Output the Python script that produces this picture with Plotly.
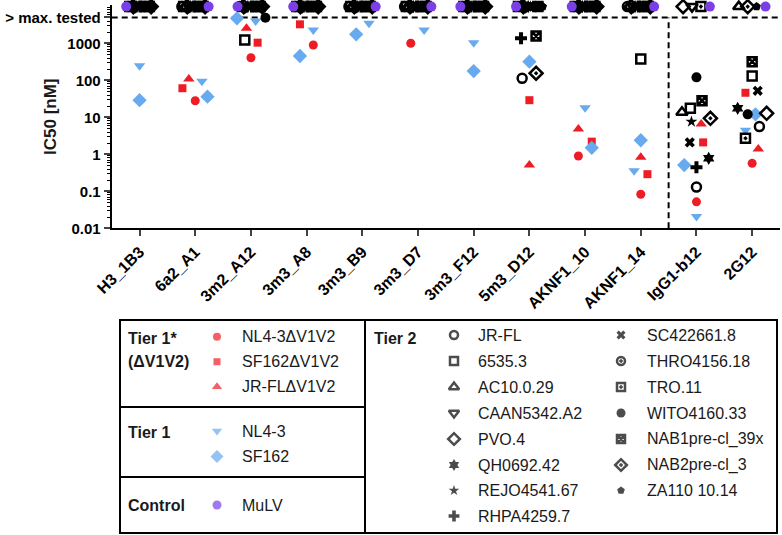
import numpy as np
import plotly.graph_objects as go

categories = ['H3_1B3', '6a2_A1', '3m2_A12', '3m3_A8', '3m3_B9', '3m3_D7',
              '3m3_F12', '5m3_D12', 'AKNF1_10', 'AKNF1_14', 'IgG1-b12', '2G12']

NN = 'nn'  # not neutralised at the highest concentration tested (> max. tested)

# Tier 1* (ΔV1V2), IC50 in nM
nl43_dv1v2 = [None, 28, 408, 900, None, 1000, None, None, 0.9, 0.083, 0.052, 0.57]
sf162_dv1v2 = [None, 61, 1040, 3260, None, None, None, 29, 2.2, 0.29, 2.1, 46]
jrfl_dv1v2 = [None, 108, 2540, None, None, None, None, 0.51, 4.8, 0.83, 6.6, 1.4]
# Tier 1
nl43 = [248, 94, 4000, 2290, 3470, 2290, 1040, None, 18, 0.36, 0.021, 4.5]
sf162 = [29, 36, 4740, 454, 1750, None, 178, 319, 1.5, 2.4, 0.51, 12]
# Control
mulv = [NN, NN, NN, NN, NN, NN, NN, NN, NN, NN, NN, NN]
# Tier 2
jrfl = [NN, NN, NN, NN, NN, NN, NN, 113, NN, NN, 0.13, 5.6]
v6535 = [NN, NN, 1230, NN, NN, NN, NN, NN, NN, 377, 17.5, 131]
ac10 = [NN, NN, NN, NN, NN, NN, NN, NN, NN, NN, 13.6, NN]
caan = [NN, NN, NN, NN, NN, NN, NN, NN, NN, NN, NN, None]
pvo4 = [NN, NN, NN, NN, NN, NN, NN, NN, NN, NN, NN, 12.8]
qh0692 = [NN, NN, NN, NN, NN, NN, NN, NN, NN, NN, 0.78, 17.5]
rejo = [NN, NN, NN, NN, NN, NN, NN, NN, NN, NN, 7.6, None]
rhpa = [NN, NN, NN, NN, NN, NN, NN, 1360, NN, NN, 0.45, None]
sc4226 = [NN, NN, NN, NN, NN, NN, NN, NN, NN, NN, 2.1, 52]
thro = [NN, NN, NN, NN, NN, NN, NN, NN, NN, NN, None, None]
tro11 = [NN, NN, NN, NN, NN, NN, NN, NN, NN, NN, NN, 2.7]
wito = [NN, NN, 4900, NN, NN, NN, NN, NN, NN, NN, 120, 12]
nab1 = [NN, NN, NN, NN, NN, NN, NN, 1575, NN, NN, 28, 319]
nab2 = [NN, NN, NN, NN, NN, NN, NN, 155, NN, NN, 9.4, NN]
za110 = [NN, NN, NN, NN, NN, NN, NN, NN, NN, NN, None, NN]

MAX_TESTED = 5000   # dashed line
TOP = 9800          # where "> max. tested" points are plotted

# horizontal scatter of points inside a column (category units)
jitter = {
    'nl43_dv1v2': {3: 0.12, 5: -0.13, 8: -0.12},
    'sf162_dv1v2': {1: -0.23, 2: 0.12, 3: -0.12, 8: 0.12, 9: 0.12, 10: 0.12, 11: -0.12},
    'jrfl_dv1v2': {1: -0.115, 2: -0.08, 8: -0.12, 10: 0.085, 11: 0.11},
    'nl43': {1: 0.12, 2: 0.085, 3: 0.12, 4: 0.12, 5: 0.11, 9: -0.12, 11: -0.12},
    'sf162': {1: 0.22, 2: -0.25, 3: -0.12, 4: -0.11, 8: 0.12, 10: -0.22, 11: 0.06},
    'jrfl': {7: -0.13, 11: 0.13},
    'v6535': {2: -0.11, 10: -0.11},
    'ac10': {10: -0.26},
    'pvo4': {11: 0.26},
    'qh0692': {10: 0.22, 11: -0.26},
    'rejo': {10: -0.09},
    'rhpa': {7: -0.15},
    'sc4226': {10: -0.12, 11: 0.1},
    'tro11': {11: -0.12},
    'wito': {2: 0.26, 11: -0.08},
    'nab1': {7: 0.12, 10: 0.1},
    'nab2': {7: 0.12, 10: 0.25},
}
# side of the "> max. tested" row where the MuLV control sits
mulv_side = ['L', 'R', 'L', 'L', 'R', 'R', 'L', 'L', 'L', 'R', 'R', 'R']

RED = '#ee1c24'
BLUE = '#68aaf0'
PURPLE = '#7b3fe6'
BLK = 'black'

tier1_star = [
    ('nl43_dv1v2', 'NL4-3ΔV1V2', nl43_dv1v2, dict(symbol='circle', color=RED, size=9)),
    ('sf162_dv1v2', 'SF162ΔV1V2', sf162_dv1v2, dict(symbol='square', color=RED, size=8)),
    ('jrfl_dv1v2', 'JR-FLΔV1V2', jrfl_dv1v2, dict(symbol='triangle-up', color=RED, size=10)),
]
tier1 = [
    ('nl43', 'NL4-3', nl43, dict(symbol='triangle-down', color=BLUE, size=10)),
    ('sf162', 'SF162', sf162, dict(symbol='diamond', color=BLUE, size=11)),
]
control = [('mulv', 'MuLV', mulv, dict(symbol='circle', color=PURPLE, size=10))]


def open_sym(sym, size=9):
    return dict(symbol=sym, color=BLK, size=size, line=dict(width=2.5, color=BLK))


tier2 = [
    ('jrfl', 'JR-FL', jrfl, open_sym('circle-open')),
    ('v6535', '6535.3', v6535, open_sym('square-open')),
    ('ac10', 'AC10.0.29', ac10, open_sym('triangle-up-open', 10)),
    ('pvo4', 'PVO.4', pvo4, open_sym('diamond-open', 10)),
    ('caan', 'CAAN5342.A2', caan, open_sym('triangle-down-open', 10)),
    ('qh0692', 'QH0692.42', qh0692, dict(symbol='hexagram', color=BLK, size=10)),
    ('rejo', 'REJO4541.67', rejo, dict(symbol='star', color=BLK, size=9)),
    ('rhpa', 'RHPA4259.7', rhpa, dict(symbol='cross', color=BLK, size=10)),
    ('sc4226', 'SC422661.8', sc4226, dict(symbol='x', color=BLK, size=9)),
    ('thro', 'THRO4156.18', thro, open_sym('circle-open-dot')),
    ('tro11', 'TRO.11', tro11, open_sym('square-open-dot')),
    ('wito', 'WITO4160.33', wito, dict(symbol='circle', color=BLK, size=10)),
    ('nab1', 'NAB1pre-cl_39x', nab1, open_sym('square-x-open')),
    ('nab2', 'NAB2pre-cl_3', nab2, open_sym('diamond-open-dot', 10)),
    ('za110', 'ZA110 10.14', za110, dict(symbol='pentagon', color=BLK, size=9)),
]
# order shown in the legend table (column-wise)
legend_order = ['jrfl', 'v6535', 'ac10', 'caan', 'pvo4', 'qh0692', 'rejo', 'rhpa',
                'sc4226', 'thro', 'tro11', 'wito', 'nab1', 'nab2', 'za110']

# spread the "> max. tested" row of each column
top_dx = {}
for i in range(len(categories)):
    row = [k for k, _, v, _ in tier2 if v[i] == NN]
    row = ['mulv'] + row if mulv_side[i] == 'L' else row + ['mulv']
    for k, d in zip(row, np.linspace(-0.24, 0.24, len(row))):
        top_dx[(k, i)] = d

fig = go.Figure()

# dashed limits
fig.add_trace(go.Scatter(x=[-0.5, 11.5], y=[MAX_TESTED, MAX_TESTED], mode='lines',
                         line=dict(color=BLK, width=2, dash='6px,4px'), hoverinfo='skip'))
fig.add_trace(go.Scatter(x=[9.5, 9.5], y=[0.01, MAX_TESTED], mode='lines',
                         line=dict(color=BLK, width=2, dash='6px,4px'), hoverinfo='skip'))

for key, name, vals, mk in tier1_star + tier1 + tier2 + control:
    xs, ys = [], []
    for i, v in enumerate(vals):
        if v is None:
            continue
        if v == NN:
            xs.append(i + top_dx[(key, i)])
            ys.append(TOP)
        else:
            xs.append(i + jitter.get(key, {}).get(i, 0))
            ys.append(v)
    m = dict(mk)
    m.setdefault('line', dict(width=0))
    fig.add_trace(go.Scatter(x=xs, y=ys, mode='markers', name=name, marker=m,
                             cliponaxis=False))

# ---- legend table (pixel space overlay) ----
lx, ly = [], []
lmk = dict(symbol=[], color=[], size=[], lw=[], lc=[])


def leg_marker(x, y, mk):
    lx.append(x)
    ly.append(y)
    lmk['symbol'].append(mk['symbol'])
    lmk['color'].append(mk['color'])
    lmk['size'].append(mk['size'] - 1)
    ln = mk.get('line', dict(width=0))
    lmk['lw'].append(ln.get('width', 0))
    lmk['lc'].append(ln.get('color', mk['color']))


annotations = []


def txt(x, y, s, size=16, bold=False, **kw):
    annotations.append(dict(x=x, y=y, xref='x2', yref='y2', text=s, showarrow=False,
                            xanchor=kw.get('xanchor', 'left'), yanchor='middle',
                            textangle=kw.get('angle', 0),
                            font=dict(size=size, color='#1a1a1a',
                                      weight='bold' if bold else 'normal')))


rows_left = [336.7, 361.7, 386.7]
for (k, name, v, mk), y in zip(tier1_star, rows_left):
    leg_marker(217, y, mk)
    txt(240, y, name)
for (k, name, v, mk), y in zip(tier1, [431, 456.5]):
    leg_marker(217, y, mk)
    txt(240, y, name)
leg_marker(217, 505, control[0][3])
txt(240, 505, 'MuLV')
txt(126, 338, 'Tier 1*', bold=True)
txt(126, 361, '(ΔV1V2)', bold=True)
txt(126, 432, 'Tier 1', bold=True)
txt(126, 505, 'Control', bold=True)
txt(372, 338, 'Tier 2', bold=True)

rows_t2 = [335, 361, 387, 413, 439, 465, 490.5, 516]
t2 = {k: (name, mk) for k, name, v, mk in tier2}
for j, k in enumerate(legend_order):
    name, mk = t2[k]
    col, r = divmod(j, 8)
    mx, tx = (454, 476) if col == 0 else (621, 645)
    leg_marker(mx, rows_t2[r], mk)
    txt(tx, rows_t2[r], name)

fig.add_trace(go.Scatter(
    x=lx, y=ly, mode='markers', xaxis='x2', yaxis='y2', cliponaxis=False,
    marker=dict(symbol=lmk['symbol'], color=lmk['color'], size=lmk['size'],
                line=dict(width=lmk['lw'], color=lmk['lc']))))

# y-axis title
txt(50, 117, 'IC50 [nM]', size=17, bold=True, xanchor='center', angle=-90)

box = dict(type='rect', xref='x2', yref='y2', line=dict(color=BLK, width=2))
shapes = [
    dict(box, x0=120, x1=365, y0=320, y1=533),
    dict(box, x0=365, x1=777, y0=320, y1=533),
    dict(type='line', xref='x2', yref='y2', x0=120, x1=365, y0=407, y1=407,
         line=dict(color=BLK, width=2)),
    dict(type='line', xref='x2', yref='y2', x0=120, x1=365, y0=477, y1=477,
         line=dict(color=BLK, width=2)),
]

minor_vals = [m * 10.0 ** e for e in range(-2, 4) for m in range(2, 10)]

fig.update_layout(
    width=782, height=535,
    margin=dict(l=0, r=0, t=0, b=0),
    paper_bgcolor='white', plot_bgcolor='rgba(0,0,0,0)',
    showlegend=False,
    font=dict(family='Liberation Sans, Arial', color=BLK),
    annotations=annotations,
    shapes=shapes,
    xaxis=dict(domain=[111.7 / 782, 780 / 782], range=[-0.5, 11.5], automargin=False,
               tickmode='array', tickvals=list(range(len(categories))), ticktext=categories,
               tickangle=-45, tickfont=dict(size=16, weight='bold'),
               ticks='outside', ticklen=6, tickwidth=2, showline=True, linewidth=2,
               linecolor=BLK, showgrid=False, zeroline=False, anchor='y'),
    yaxis=dict(domain=[1 - 228.3 / 535, 1 - 5 / 535], type='log', range=[-2, 4.035],
               automargin=False,
               tickmode='array', tickvals=[0.01, 0.1, 1, 10, 100, 1000, MAX_TESTED],
               ticktext=['0.01', '0.1', '1', '10', '100', '1000', '> max. tested'],
               tickfont=dict(size=15, weight='bold'),
               ticks='outside', ticklen=6, tickwidth=2, showline=True, linewidth=2,
               linecolor=BLK, showgrid=False, zeroline=False, anchor='x',
               minor=dict(tickmode='array', tickvals=minor_vals, ticks='outside',
                          ticklen=3, tickwidth=1, tickcolor=BLK, showgrid=False)),
    xaxis2=dict(domain=[0, 1], range=[0, 782], visible=False, anchor='y2',
                automargin=False),
    yaxis2=dict(domain=[0, 1], range=[535, 0], visible=False, anchor='x2',
                automargin=False),
)

# the page body keeps a default 8px margin; drop it so the figure sits at (0, 0)
fig.write_html('out.html', config={'displayModeBar': False},
               post_script="document.body.style.margin='0';")
